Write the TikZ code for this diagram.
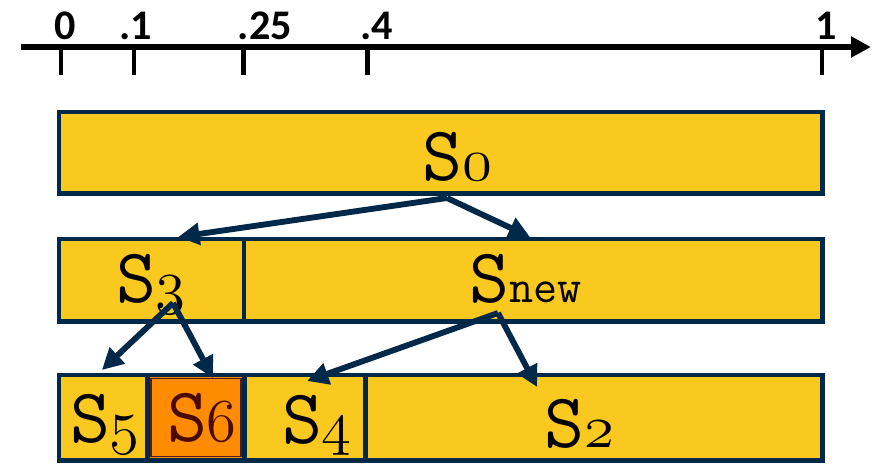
\RequirePackage{fix-cm}
\documentclass[tikz,border=0pt]{standalone}
\usepackage{fontspec}
\usepackage{xcolor}
\usetikzlibrary{positioning,arrows.meta}

\newfontfamily\axisfont{Carlito}[BoldFont={* Bold}]

\definecolor{navy}{RGB}{0,40,72}
\definecolor{gold}{RGB}{249,201,32}
\definecolor{tangerine}{RGB}{255,140,0}
\definecolor{maroon}{RGB}{80,28,36}
\definecolor{rust}{RGB}{75,10,0}

% old-style digits straight from the math italic font
\newcommand{\oldfig}{\fontencoding{OML}\fontfamily{cmm}\fontseries{m}\fontshape{it}\selectfont}
% S with a small index (digits) or word
\newcommand{\setname}[1]{{\ttfamily\fontsize{66}{70}\selectfont S}{\fontsize{52}{56}\oldfig #1}}
\newcommand{\setword}[1]{{\ttfamily\fontsize{66}{70}\selectfont S}{\ttfamily\fontsize{40}{44}\selectfont #1}}

\begin{document}
\begin{tikzpicture}[x=0.03cm, y=-0.03cm,
    box/.style={rectangle, draw=navy, fill=gold, line width=4.25pt, anchor=north west, inner sep=0pt, outer sep=0pt},
    lbl/.style={inner sep=0pt, anchor=base},
    tick/.style={font=\axisfont\bfseries\fontsize{36}{40}\selectfont, inner sep=0pt, anchor=base},
    arrow/.style={-{Triangle[length=0.64cm,width=0.64cm]}, line width=5pt, draw=navy, line join=round}
]
\useasboundingbox (0,0) rectangle (884,463);

% number line
\draw[line width=5.5pt, -{Triangle[length=0.6cm,width=0.6cm]}] (21,47) -- (871,47);
\foreach \x/\lx/\t [count=\i] in {61/65/0, 134/136/.1, 243.5/265/.25, 367.5/377/.4, 822/826/1} {
    \draw[line width=4pt] (\x,47) -- (\x,75);
    \node[tick] (t\i) at (\lx,39) {\t};
}

% rows of intervals
\node[box, minimum width=22.9cm, minimum height=2.43cm] (b0) at (59,112) {};

\node[box, minimum width=5.55cm, minimum height=2.46cm] (b3) at (59,239) {};
\node[box, minimum width=17.36cm, minimum height=2.46cm, right=0pt of b3] (bnew) {};

\node[box, minimum width=2.655cm, minimum height=2.55cm] (b5) at (59,375) {};
\node[box, draw=maroon, fill=tangerine, minimum width=2.91cm, minimum height=2.55cm, right=0pt of b5] (b6) {};
\node[box, minimum width=3.615cm, minimum height=2.55cm, right=0pt of b6] (b4) {};
\node[box, minimum width=13.725cm, minimum height=2.55cm, right=0pt of b4] (b2) {};
% shared borders stay navy, with a thin maroon edge inside the orange cell
\draw[navy, line width=4.25pt] (b5.north west) rectangle (b2.south east);
\draw[navy, line width=4.25pt] (b6.north west) -- (b6.south west) (b6.north east) -- (b6.south east);
\draw[maroon, line width=1.5pt] ([xshift=2.9pt,yshift=-2.9pt]b6.north west) rectangle ([xshift=-2.9pt,yshift=2.9pt]b6.south east);

% names
\node[lbl] (s0) at (457,180) {\setname{0}};
\node[lbl] (s3) at (151,302) {\setname{3}};
\node[lbl] (snew) at (526,302) {\setword{new}};
\node[lbl] (s5) at (105,442) {\setname{5}};
\node[lbl, text=rust] (s6) at (202,441) {\setname{6}};
\node[lbl] (s4) at (317,443) {\setname{4}};
\node[lbl] (s2) at (579,447) {\setname{2}};

% splits
\draw[arrow] ([xshift=-0.3cm,yshift=-0.54cm]s0.base) -- ([xshift=0.8cm,yshift=0.06cm]b3.north);
\draw[arrow] ([xshift=-0.3cm,yshift=-0.54cm]s0.base) -- ([xshift=-0.1cm,yshift=0.06cm]bnew.north);
\draw[arrow] ([xshift=0.66cm,yshift=-0.03cm]s3.base) -- ([xshift=-0.04cm,yshift=0.15cm]b5.north);
\draw[arrow] ([xshift=0.66cm,yshift=-0.03cm]s3.base) -- ([xshift=0.51cm,yshift=-0.09cm]b6.north);
\draw[arrow] ([xshift=-0.84cm,yshift=-0.33cm]snew.base) -- ([xshift=0.07cm,yshift=-0.18cm]b4.north);
\draw[arrow] ([xshift=-0.84cm,yshift=-0.33cm]snew.base) -- ([xshift=-1.7cm,yshift=-0.36cm]b2.north);

\end{tikzpicture}
\end{document}
